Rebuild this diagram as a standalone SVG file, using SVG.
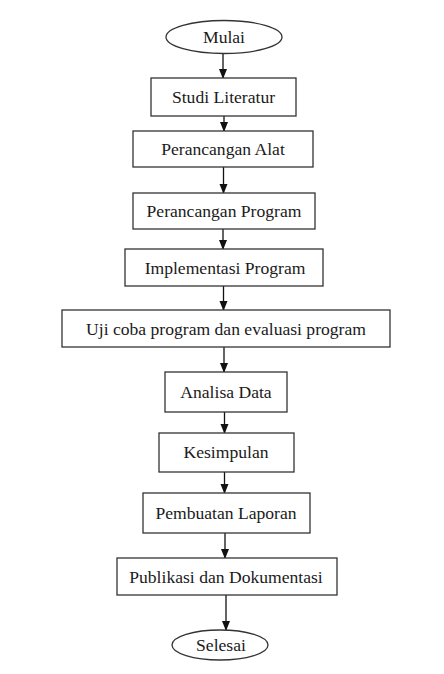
<svg xmlns="http://www.w3.org/2000/svg" width="444" height="674" viewBox="0 0 444 674">
<defs>
<marker id="ah" markerWidth="10" markerHeight="10" refX="9" refY="5" orient="auto" markerUnits="userSpaceOnUse">
<path d="M0,1 L10,5 L0,9 Z" fill="#111"/>
</marker>
<style>
.n{fill:#fff;stroke:#333;stroke-width:1.3}
.t{font-family:"Liberation Serif","Times New Roman",serif;font-size:17.6px;fill:#1a1a1a;text-anchor:middle}
.c line{stroke:#111;stroke-width:1.3;marker-end:url(#ah)}
</style>
</defs>
<rect width="444" height="674" fill="#fff"/>
<g class="c" id="connectors">
<line x1="223" y1="53.5" x2="223" y2="78"/>
<line x1="224" y1="116" x2="224" y2="131"/>
<line x1="223.5" y1="167" x2="223.5" y2="193"/>
<line x1="223" y1="229" x2="223" y2="249"/>
<line x1="223.5" y1="286" x2="223.5" y2="310"/>
<line x1="224" y1="347" x2="224" y2="372"/>
<line x1="224.5" y1="412" x2="224.5" y2="433"/>
<line x1="224.5" y1="472" x2="224.5" y2="493"/>
<line x1="225" y1="533" x2="225" y2="558"/>
<line x1="226" y1="595" x2="226" y2="630"/>
</g>
<g id="mulai"><ellipse class="n" cx="224" cy="37" rx="58" ry="16.5"/><text class="t" x="224" y="43">Mulai</text></g>
<g id="studi"><rect class="n" x="151" y="78" width="145" height="38"/><text class="t" x="223.5" y="103">Studi Literatur</text></g>
<g id="alat"><rect class="n" x="133" y="131" width="180" height="36"/><text class="t" x="223" y="155">Perancangan Alat</text></g>
<g id="program"><rect class="n" x="133" y="193" width="182" height="36"/><text class="t" x="224" y="217">Perancangan Program</text></g>
<g id="implementasi"><rect class="n" x="125" y="249" width="198" height="37"/><text class="t" x="225" y="274">Implementasi Program</text></g>
<g id="ujicoba"><rect class="n" x="62" y="310" width="328" height="37"/><text class="t" x="226" y="335">Uji coba program dan evaluasi program</text></g>
<g id="analisa"><rect class="n" x="165" y="372" width="122" height="40"/><text class="t" x="226" y="398">Analisa Data</text></g>
<g id="kesimpulan"><rect class="n" x="159" y="433" width="135" height="39"/><text class="t" x="226" y="458">Kesimpulan</text></g>
<g id="laporan"><rect class="n" x="143" y="493" width="167" height="40"/><text class="t" x="226" y="519">Pembuatan Laporan</text></g>
<g id="publikasi"><rect class="n" x="117" y="558" width="220" height="37"/><text class="t" x="226" y="583">Publikasi dan Dokumentasi</text></g>
<g id="selesai"><ellipse class="n" cx="220" cy="645" rx="48" ry="15"/><text class="t" x="221" y="651">Selesai</text></g>
</svg>
